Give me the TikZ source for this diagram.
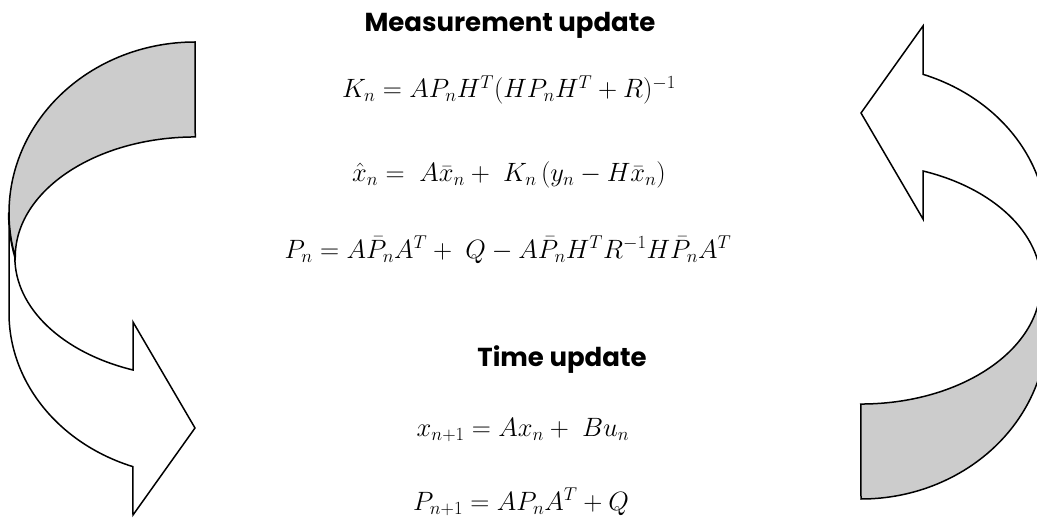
\RequirePackage{fix-cm}
\documentclass[tikz,border=0pt]{standalone}
\usepackage{amsmath, amssymb}
\usepackage{xcolor}
\usepackage{fontspec}
\usepackage{tikz}
\newfontfamily\headfont{Poppins}
\definecolor{bandgray}{HTML}{CCCCCC}

\begin{document}
\begin{tikzpicture}[x=1pt, y=-1pt,
        head/.style={font=\headfont\bfseries\fontsize{26}{30}\selectfont},
        eqn/.style={inner sep=0pt, font=\fontsize{26.5}{30}\selectfont},
        band/.style={draw, line width=1.5pt, line join=miter},
        turnarrow/.pic={
            % shaded back of the band
            \path[band, fill=bandgray] (195,42)
                arc[start angle=270, end angle=165.1, x radius=186, y radius=171]
                arc[start angle=180, end angle=270, x radius=180, y radius=120] -- cycle;
            % front of the band with the head
            \path[band, fill=white] (9,213) -- (9,313)
                arc[start angle=180, end angle=109.5, x radius=186, y radius=163]
                -- (133,515) -- (195,428) -- (133,322) -- (133,370)
                arc[start angle=110.1, end angle=180, x radius=180, y radius=120]
                arc[start angle=165.1, end angle=180, x radius=186, y radius=171] -- cycle;
        }
    ]
        \useasboundingbox (0,0) rectangle (1037,521);
        \clip (0,0) rectangle (1037,521);
        \pic at (0,0) {turnarrow};
        \pic[rotate=180] at (1056,541) {turnarrow};

        \node[head] (meas) at (510,25) {Measurement update};
        \node[eqn] (gain)  at (509,90)  {$K_n = AP_nH^T(HP_nH^T+R)^{-1}$};
        \node[eqn] (state) at (509,175) {$\hat{x}_n = \; A\bar{x}_n + \; K_n\,(y_n - H\bar{x}_n)$};
        \node[eqn] (cov)   at (508,250) {$P_n = A\bar{P}_nA^T + \; Q - A\bar{P}_nH^TR^{-1}H\bar{P}_nA^T$};

        \node[head] (time) at (562,360) {Time update};
        \node[eqn] (pred)    at (523,430) {$x_{n+1} = Ax_n + \; Bu_n$};
        \node[eqn] (predcov) at (521,502) {$P_{n+1} = AP_nA^T + Q$};
    \end{tikzpicture}
\end{document}
